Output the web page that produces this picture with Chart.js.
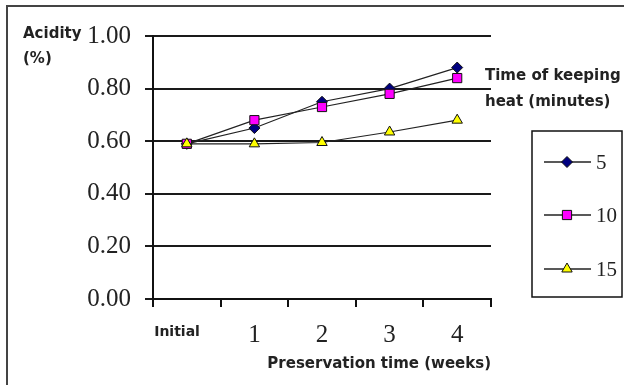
<!DOCTYPE html>
<html>
<head>
<meta charset="utf-8">
<script src="https://cdn.jsdelivr.net/npm/chart.js@4"></script>
<style>
  html, body { margin: 0; padding: 0; background: #fff; }
  #wrap { width: 624px; height: 385px; }
</style>
</head>
<body>
<div id="wrap"><canvas id="chart" width="624" height="385"></canvas></div>
<script>
const categories = ['Initial', '1', '2', '3', '4']
const heat5 = [0.59, 0.65, 0.75, 0.80, 0.88]
const heat10 = [0.59, 0.68, 0.73, 0.78, 0.84]
const heat15 = [0.59, 0.59, 0.595, 0.635, 0.68]
const seriesNames = ['5', '10', '15']
const yTicks = [0, 0.2, 0.4, 0.6, 0.8, 1.0]

const textColor = '#222'
const boldSans = (size) => ({ family: 'DejaVu Sans', weight: 'bold', size })

// frame, axis captions and the legend box with line + marker samples
const decorations = {
  id: 'decorations',
  beforeDraw(chart) {
    const ctx = chart.ctx
    ctx.save()
    ctx.fillStyle = '#fff'
    ctx.fillRect(0, 0, chart.width, chart.height)
    ctx.strokeStyle = '#444'
    ctx.lineWidth = 2
    ctx.beginPath()
    ctx.moveTo(7, chart.height)
    ctx.lineTo(7, 6)
    ctx.lineTo(chart.width, 6)
    ctx.stroke()
    ctx.restore()
  },
  afterDraw(chart) {
    const ctx = chart.ctx
    ctx.save()
    ctx.fillStyle = textColor
    ctx.font = 'bold 15px "DejaVu Sans"'
    ctx.textAlign = 'left'
    ctx.textBaseline = 'middle'
    ctx.fillText('Acidity', 23, 34)
    ctx.fillText('(%)', 23, 59)
    ctx.fillText('Time of keeping', 485, 76)
    ctx.fillText('heat (minutes)', 485, 102)

    // legend
    ctx.strokeStyle = '#111'
    ctx.lineWidth = 1.5
    ctx.strokeRect(532, 131, 90, 166)
    const rows = [162, 215, 269]
    chart.data.datasets.forEach((ds, i) => {
      const y = rows[i]
      ctx.strokeStyle = ds.borderColor
      ctx.lineWidth = 1.5
      ctx.beginPath()
      ctx.moveTo(544, y)
      ctx.lineTo(591, y)
      ctx.stroke()
      ctx.fillStyle = ds.pointBackgroundColor
      ctx.strokeStyle = ds.pointBorderColor
      ctx.lineWidth = 1
      Chart.helpers.drawPoint(ctx, { pointStyle: ds.pointStyle, radius: ds.pointRadius, rotation: 0, borderWidth: 1 }, 567, y)
      ctx.fillStyle = textColor
      ctx.font = '21px "Liberation Serif"'
      ctx.textAlign = 'left'
      ctx.textBaseline = 'middle'
      ctx.fillText(ds.label, 596, y + 1)
    })
    ctx.restore()
  }
}

const makeSeries = (label, data, style, fill, radius, order) => ({
  label,
  data,
  borderColor: '#222',
  borderWidth: 1.2,
  pointStyle: style,
  pointRadius: radius,
  pointHoverRadius: radius,
  pointBackgroundColor: fill,
  pointBorderColor: '#111',
  pointBorderWidth: 1,
  tension: 0,
  order
})

new Chart(document.getElementById('chart'), {
  type: 'line',
  data: {
    labels: categories,
    datasets: [
      makeSeries(seriesNames[0], heat5, 'rectRot', '#000080', 5.5, 3),
      makeSeries(seriesNames[1], heat10, 'rect', '#ff00ff', 6.5, 2),
      makeSeries(seriesNames[2], heat15, 'triangle', '#ffff00', 6, 1)
    ]
  },
  options: {
    responsive: false,
    animation: false,
    layout: { padding: { top: 36, right: 133, bottom: 0, left: 0 } },
    plugins: {
      legend: { display: false },
      tooltip: { enabled: false }
    },
    scales: {
      x: {
        offset: true,
        afterFit: (scale) => { scale.height = 86 },
        border: { display: true, color: '#111', width: 2 },
        grid: { drawOnChartArea: false, drawTicks: true, tickLength: 8, offset: true, color: '#111', lineWidth: 2 },
        ticks: {
          padding: 13,
          color: textColor,
          autoSkip: false,
          maxRotation: 0,
          callback: (val, i) => i === 0 ? categories[i] + '    ' : categories[i],
          font: (ctx) => ctx.index === 0
            ? { family: 'DejaVu Sans', weight: 'bold', size: 14, lineHeight: 1.8 }
            : { family: 'Liberation Serif', size: 25 }
        },
        title: {
          display: true,
          text: 'Preservation time (weeks)',
          align: 'end',
          color: textColor,
          font: boldSans(15),
          padding: { top: 0, bottom: 12 }
        }
      },
      y: {
        min: yTicks[0],
        max: yTicks[yTicks.length - 1],
        afterFit: (scale) => { scale.width = 153 },
        afterBuildTicks: (scale) => { scale.ticks = yTicks.map(v => ({ value: v })) },
        border: { display: true, color: '#111', width: 2 },
        grid: { color: '#1a1a1a', lineWidth: 2, tickLength: 8 },
        ticks: {
          padding: 14,
          color: textColor,
          font: { family: 'Liberation Serif', size: 25 },
          callback: (val) => Number(val).toFixed(2)
        }
      }
    }
  },
  plugins: [decorations]
})
</script>
</body>
</html>
